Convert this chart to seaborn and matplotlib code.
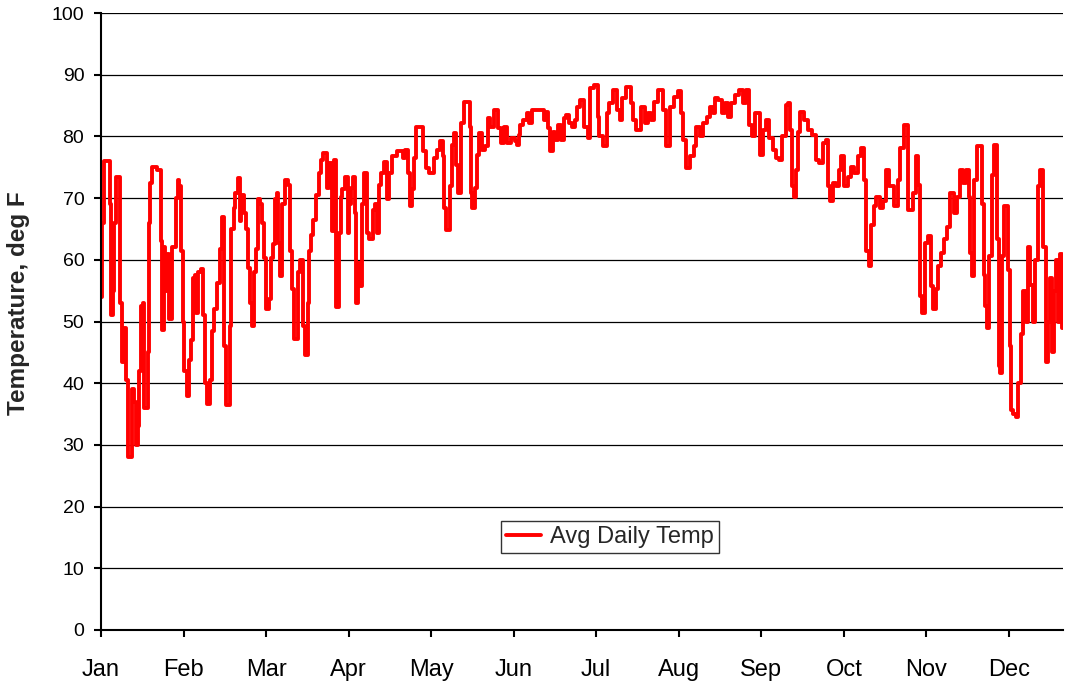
import numpy as np
import pandas as pd
import seaborn as sns
import matplotlib
matplotlib.use("Agg")
import matplotlib.pyplot as plt

# daily average temperature (day of year, deg F)
days = [0, 1, 1.6, 3.2, 3.6, 4.2, 4.6, 5.4, 5.8, 7, 7.5, 8.4, 9.2, 9.9, 10.8, 11.6, 12.3, 13, 13.7, 14.3,
        14.8, 15.5, 16.2, 16.8, 17.6, 17.9, 18.3, 18.9, 19.8, 22.4, 23, 23.6, 24, 24.6, 25.4, 26.4, 27.3, 28.3, 28.9, 29.3,
        30, 30.6, 31.3, 32, 32.6, 33, 33.6, 34.6, 35.2, 36, 36.4, 37.2, 38.4, 38.8, 39.8, 41, 41.6, 42.6, 43.5, 44.9,
        45.4, 46.5, 47.1, 47.7, 48.7, 49, 50, 50.6, 51.3, 52.4, 52.9, 53.6, 54.8, 55.5, 56.3, 56.9, 57.5, 58.4, 59, 59.8,
        60.9, 61.5, 62.2, 62.7, 63.6, 64.2, 64.7, 65.5, 66.3, 67.1, 67.5, 68.4, 69.2, 70.6, 71.5, 72.2, 72.7, 73.6, 74.5, 74.8,
        76.3, 77, 78, 78.8, 79.4, 80.2, 81, 82.5, 83.2, 83.8, 85, 86.3, 87, 88.3, 88.9, 89.5, 90.1, 90.6, 91.3, 92,
        93.3, 94, 94.6, 95.1, 96.1, 96.6, 97, 97.9, 98.6, 99.2, 100.2, 101.4, 102.1, 103, 103.7, 104.6, 105.2, 105.8, 106.7, 107.9,
        109, 109.9, 111.3, 113, 114, 115, 115.9, 116.8, 117.6, 118.5, 119.1, 119.7, 121.6, 123, 124, 125, 126, 126.8, 128.1, 129.4,
        130, 130.5, 131.3, 132.3, 132.8, 133.6, 134.4, 135, 136.3, 137.3, 138.3, 139.9, 140.1, 140.4, 141.4, 142.4, 143.3, 143.9, 145.2, 146.4,
        147.1, 148.3, 150, 151.3, 152.5, 153.4, 154.7, 156.3, 157.6, 158.3, 158.7, 159.6, 160.9, 162.1, 162.8, 164, 168, 168.5, 169.4, 170.1,
        170.9, 171.9, 172.6, 173.9, 175.1, 176, 177.3, 178.2, 179.4, 180.4, 181.1, 182.7, 184, 185.3, 185.8, 188.1, 188.9, 189.4, 191.4, 192.3,
        193.6, 195.2, 196.5, 197.4, 198.3, 200.5, 201.5, 202.4, 204, 205.6, 206.9, 208.4, 209.1, 210.4, 212.7, 213.8, 215.1, 216.4, 218.2, 219.5,
        220.5, 221.3, 222.8, 224.4, 225.4, 226.4, 228, 229.2, 230.4, 231.5, 232.7, 233.6, 234.9, 236.1, 237.8, 238.4, 239.6, 241.2, 243.1, 244.1,
        245.4, 246.6, 247.5, 249.1, 250.7, 251.5, 253, 254.3, 255.5, 256.8, 257.8, 259.4, 260.4, 261.2, 261.9, 262.6, 263.2, 264.1, 264.6, 265.9,
        267.6, 269.2, 270.5, 271.8, 273, 274.6, 275.6, 276.2, 277.1, 278.4, 279.6, 280.2, 281.5, 282.7, 284, 285.3, 286.5, 287.8, 289.2, 289.8,
        290.9, 291.7, 292.7, 293.6, 294.8, 296.1, 297.1, 298.5, 299.9, 301.8, 302.8, 303.7, 305.6, 307.1, 308.8, 309.6, 310.4, 310.9, 312.2, 313.1,
        314.3, 315.3, 316.2, 317.5, 318.1, 319.4, 320.6, 321.3, 322.7, 324.4, 325.5, 326.3, 327.6, 328.9, 329.5, 330.1, 330.8, 331.4, 333.1, 334,
        334.6, 335.3, 335.9, 336.5, 337.8, 338.4, 339.4, 340.3, 341, 341.6, 342, 343.5, 344.5, 345.1, 345.8, 346.7, 347.5, 348.4, 349.5, 350.5,
        351.5, 352.3, 353, 354, 355, 356, 357, 358, 358.9, 359.7, 360.5, 361.2, 362, 362.7, 363.4, 364.2, 364.9]
temps = [54, 66, 76, 76, 69, 51, 55, 66, 73.5, 73.5, 53, 43.5, 49, 40.5, 28, 28, 39, 37, 30, 33,
         42, 52.5, 53, 36, 36, 45, 66, 72.5, 75, 74.5, 63, 48.6, 62, 55, 61, 50.4, 62, 62, 70, 73,
         72, 61.5, 50, 42, 42, 38, 43.7, 47, 57, 57.5, 51.4, 58, 58.5, 51, 40.1, 36.6, 40.6, 48.4, 52, 56.3,
         61.7, 67, 46, 36.5, 36.5, 49.3, 65, 68.4, 70.8, 73.2, 66.3, 70.5, 67.6, 65, 58.6, 53, 49.3, 58, 61.7, 69.8,
         69, 66, 60.3, 52, 52, 53.6, 60.3, 62.5, 69.8, 70.8, 62.7, 57.4, 69, 73, 72.2, 61.4, 55.2, 47.1, 47.1, 58,
         60, 49.3, 44.5, 53, 61.4, 64, 66.5, 70.5, 74, 76.2, 77.3, 71.6, 75.7, 64.6, 76.2, 52.3, 52.3, 64.4, 70.2, 71.4,
         73.5, 64.4, 69, 71.6, 73.5, 67.6, 53, 59.5, 55.7, 69, 74, 64.4, 63.3, 63.3, 68.1, 69, 64.4, 72.2, 74, 75.9,
         69.8, 74, 76.8, 77.6, 77.6, 76.5, 77.8, 74, 68.7, 71.4, 76.5, 81.6, 81.6, 77.6, 74.9, 74, 74, 76.5, 77.8, 79.2,
         76.8, 68.4, 64.9, 64.9, 71.9, 78.6, 80.5, 75.4, 70.8, 82.1, 85.6, 85.6, 81.6, 70.8, 68.4, 71.6, 77, 80.5, 77.8, 78.4,
         83, 81.6, 84.3, 81.3, 78.9, 81.6, 78.9, 79.7, 79.2, 78.6, 80.3, 81.9, 82.7, 83.8, 82.1, 84.3, 84.3, 82.7, 84, 81.3,
         77.6, 80.8, 79.4, 81.9, 79.4, 83, 83.5, 82.1, 81.6, 82.7, 84.8, 85.9, 81.6, 79.7, 87.8, 88.3, 83.2, 80, 78.4, 83.8,
         85.4, 87.5, 84.3, 82.7, 86.2, 88, 85.4, 82.7, 81.1, 84.8, 82.1, 83.8, 82.7, 85.6, 87.5, 84.3, 78.4, 84.8, 86.4, 87.3,
         83.8, 79.4, 74.9, 76.8, 78.4, 81.6, 80, 82.1, 83.2, 84.8, 83.8, 86.2, 85.9, 83.8, 85.4, 83.2, 85.4, 86.7, 87.5, 85.4,
         87.5, 81.9, 80, 83.8, 77, 81.1, 82.7, 79.7, 77.8, 76.5, 76.2, 80, 85.1, 85.4, 81.1, 71.9, 70.2, 74.6, 80.8, 84,
         82.7, 81.1, 80.3, 76.2, 75.7, 78.9, 79.4, 71.9, 69.5, 72.4, 71.9, 74.6, 76.8, 71.9, 73.5, 75.1, 74, 76.8, 78.1, 73,
         61.4, 59, 65.7, 68.7, 70.2, 68.4, 69.5, 74.6, 71.9, 68.7, 73, 78.1, 81.9, 68.1, 70.8, 76.8, 72.2, 54.1, 51.4, 62.7,
         63.8, 55.7, 52, 55.2, 59, 61.1, 63.3, 65.4, 70.8, 67.6, 70.2, 74.6, 72.5, 74.6, 70.2, 61.1, 57.4, 73, 78.4, 78.4,
         69, 57.6, 52.5, 49, 60.6, 73.8, 78.6, 63.3, 42.8, 41.7, 60.6, 68.7, 58.4, 46, 35.6, 35, 34.5, 40, 48, 55,
         50, 62, 56, 50, 60, 72, 74.5, 62, 43.5, 50, 57, 45, 55, 60, 50, 61, 49]

months = ["Jan", "Feb", "Mar", "Apr", "May", "Jun", "Jul", "Aug", "Sep", "Oct", "Nov", "Dec"]
y_ticks = list(range(0, 101, 10))
month_step = 31.32  # spacing of the category ticks, in days

df = pd.DataFrame({"day": days, "temp": temps})

sns.set_style("white")
plt.rcParams["font.family"] = ["Liberation Sans", "DejaVu Sans"]

fig = plt.figure(figsize=(10.65, 6.87), dpi=100)
ax = fig.add_axes([0.0948, 0.083, 0.9032, 0.898])

sns.lineplot(data=df, x="day", y="temp", ax=ax, color="#ff0000", lw=2.8,
             estimator=None, sort=False, label="Avg Daily Temp", drawstyle="steps-mid")

ax.set_xlim(0, 365)
ax.set_ylim(0, 100)
ax.set_yticks(y_ticks)
ax.set_xticks(np.arange(12) * month_step)
ax.set_xticklabels(months)
ax.yaxis.grid(True, color="black", lw=0.9)
ax.xaxis.grid(False)

for s in ["top", "right"]:
    ax.spines[s].set_visible(False)
for s in ["left", "bottom"]:
    ax.spines[s].set_color("black")
    ax.spines[s].set_linewidth(1.5)

ax.tick_params(axis="both", direction="out", length=5, width=1.5, color="black",
               labelcolor="black", bottom=True, left=True)
ax.tick_params(axis="x", pad=16, labelsize=17)
ax.tick_params(axis="y", pad=7, labelsize=14)
ax.set_xlabel("")
ax.set_ylabel("Temperature, deg F", fontsize=17.5, fontweight="bold")
ax.yaxis.set_label_coords(-0.074, 0.53)

leg = ax.legend(loc="center", bbox_to_anchor=(0.529, 0.151), fontsize=17, frameon=True,
                fancybox=False, edgecolor="black", handlelength=1.5, borderpad=0.2,
                handletextpad=0.4)
leg.get_frame().set_linewidth(1.0)

fig.savefig("out.png", dpi=100)
